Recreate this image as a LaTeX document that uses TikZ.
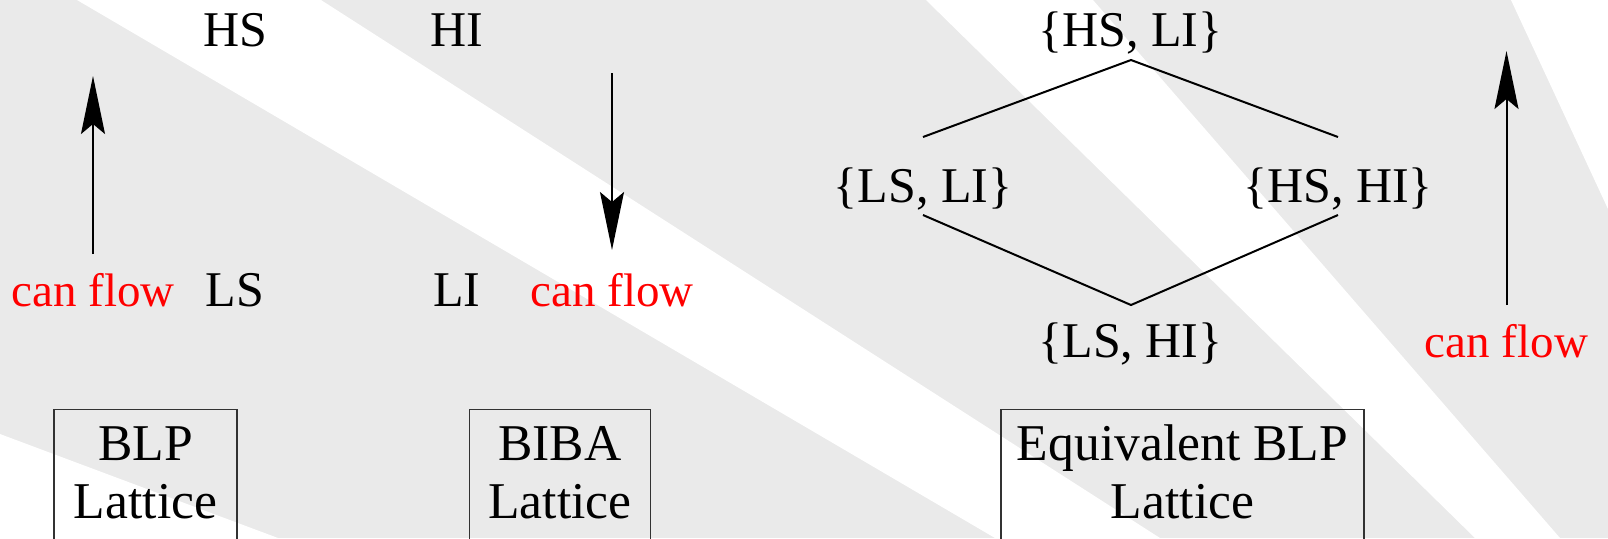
\documentclass[tikz,border=0pt]{standalone}
\usepackage{fontspec}
\setmainfont{Liberation Serif}
\usetikzlibrary{arrows.meta}
\definecolor{bggray}{RGB}{234,234,234}
\definecolor{flowred}{RGB}{255,0,0}
\definecolor{boxline}{RGB}{50,50,50}
\tikzset{
  lbl/.style={anchor=base, inner sep=0pt, font=\fontsize{25pt}{29pt}\selectfont},
  flowlbl/.style={anchor=base, inner sep=0pt, text=flowred, font=\fontsize{23.5pt}{28pt}\selectfont},
  lbox/.style={draw=boxline, line width=0.6pt, anchor=north, align=center,
    font=\fontsize{25.8pt}{29pt}\selectfont, text height=46.5pt, text depth=20pt,
    inner ysep=8pt, inner xsep=0pt},
  flowarrow/.style={line width=1pt, -{Stealth[length=29pt,width=12pt,inset=5pt]}},
  latline/.style={line width=1pt}
}
\begin{document}
\begin{tikzpicture}[x=0.5pt,y=-0.5pt]
\useasboundingbox (0,0) rectangle (1608,538);
\clip (0,0) rectangle (1608,538);
% background
\fill[bggray] (0,0) rectangle (1608,538);
\fill[white] (77,0) -- (321,0) -- (1160,538) -- (995,538) -- cycle;
\fill[white] (926,0) -- (1093,0) -- (1560,538) -- (1475,538) -- cycle;
\fill[white] (1511,0) -- (1608,0) -- (1608,209) -- cycle;
\fill[white] (0,434) -- (278,538) -- (0,538) -- cycle;
% BLP lattice
\node[lbl] (hs) at (235,46) {HS};
\node[lbl] (ls) at (235,306) {LS};
\node[flowlbl] (cf1) at (93,306) {can flow};
\coordinate (a1s) at (93,254);
\coordinate (a1e) at (93,76);
\draw[flowarrow] (a1s) -- (a1e);
\node[lbox, minimum width=91.5pt] (blp) at (145.5,409) {BLP\\Lattice};
% BIBA lattice
\node[lbl] (hi) at (457,46) {HI};
\node[lbl] (li) at (457,306) {LI};
\node[flowlbl] (cf2) at (612,306) {can flow};
\coordinate (a2s) at (612,73);
\coordinate (a2e) at (612,250);
\draw[flowarrow] (a2s) -- (a2e);
\node[lbox, minimum width=90.75pt] (biba) at (560,409) {BIBA\\Lattice};
% Equivalent BLP lattice
\node[lbl] (hsli) at (1130.5,46) {\{HS, LI\}};
\node[lbl] (lsli) at (923,202) {\{LS, LI\}};
\node[lbl] (hshi) at (1338,202) {\{HS, HI\}};
\node[lbl] (lshi) at (1130.5,357) {\{LS, HI\}};
\coordinate (dt) at (1131,60);
\coordinate (dlu) at (923,137);
\coordinate (dru) at (1338,137);
\coordinate (dld) at (923,215);
\coordinate (drd) at (1338,215);
\coordinate (db) at (1131,305);
\draw[latline] (dlu) -- (dt) -- (dru);
\draw[latline] (dld) -- (db) -- (drd);
\node[flowlbl] (cf3) at (1506.5,357) {can flow};
\coordinate (a3s) at (1506.5,305);
\coordinate (a3e) at (1506.5,51);
\draw[flowarrow] (a3s) -- (a3e);
\node[lbox, minimum width=181.5pt] (eqblp) at (1182.5,409) {Equivalent BLP\\Lattice};
\end{tikzpicture}
\end{document}
